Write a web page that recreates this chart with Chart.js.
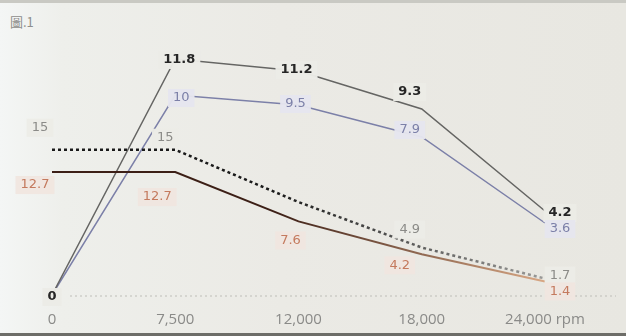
<!DOCTYPE html>
<html>
<head>
<meta charset="utf-8">
<script src="https://cdn.jsdelivr.net/npm/chart.js@4/dist/chart.umd.min.js"></script>
<style>
  html, body { margin: 0; padding: 0; }
  body {
    width: 626px; height: 336px; overflow: hidden; position: relative;
    background: linear-gradient(90deg, #f4f6f5 0%, #eeefeb 10%, #ebeae5 45%, #e8e7e1 100%);
  }
  #title { position: absolute; left: 10px; top: 12px; font: 13px "Noto Sans CJK TC"; color: #8e8e8c; }
  #topedge { position: absolute; left: 0; top: 0; width: 626px; height: 3px; background: #c9c9c3; }
  #botedge { position: absolute; left: 0; top: 333px; width: 626px; height: 3px; background: #6d6d68; }
  #wrap { position: absolute; left: 0; top: 0; width: 626px; height: 336px; }
</style>
</head>
<body>
<div id="topedge"></div>
<div id="botedge"></div>
<div id="title">圖.1</div>
<div id="wrap"><canvas id="canvas"></canvas></div>
<script>
// rpm steps along the bottom
var rpmLabels = ['0', '7,500', '12,000', '18,000', '24,000 rpm'];

// power curves (right scale)
var powerDark = [0, 11.8, 11.2, 9.3, 4.2];
var powerBlue = [0, 10, 9.5, 7.9, 3.6];

// torque curves (left scale)
var torqueDotted = [15, 15, 9.6, 4.9, 1.7];
var torqueRed = [12.7, 12.7, 7.6, 4.2, 1.4];

// gradient along x for the lines that fade to the right
function fade(chart, from, to) {
  var area = chart.chartArea;
  if (!area) return from;
  var g = chart.ctx.createLinearGradient(area.left, 0, area.right, 0);
  g.addColorStop(0, from);
  g.addColorStop(0.45, from);
  g.addColorStop(1, to);
  return g;
}

// dotted zero line across the page
var baseLine = {
  id: 'baseLine',
  beforeDatasetsDraw: function(chart) {
    var ctx = chart.ctx;
    var y = chart.scales.yT.getPixelForValue(0) + 1;
    ctx.save();
    ctx.strokeStyle = '#bdbdb7';
    ctx.lineWidth = 1.2;
    ctx.setLineDash([2, 3]);
    ctx.beginPath();
    ctx.moveTo(chart.chartArea.left + 18, y);
    ctx.lineTo(chart.width - 10, y);
    ctx.stroke();
    ctx.restore();
  }
};

// value labels drawn on boxes so the lines break around them
var valueLabels = {
  id: 'valueLabels',
  afterDatasetsDraw: function(chart) {
    var ctx = chart.ctx;
    chart.data.datasets.forEach(function(ds, i) {
      var meta = chart.getDatasetMeta(i);
      meta.data.forEach(function(pt, j) {
        var off = ds.labelPos[j];
        if (!off) return;
        var text = String(ds.data[j]);
        var x = pt.x + off[0];
        var y = pt.y + off[1];
        ctx.save();
        ctx.font = ds.labelFont;
        var w = ctx.measureText(text).width;
        ctx.fillStyle = ds.labelBox;
        ctx.fillRect(x - w / 2 - 5, y - 9, w + 10, 18);
        ctx.fillStyle = ds.labelColor;
        ctx.textAlign = 'center';
        ctx.textBaseline = 'middle';
        ctx.fillText(text, x, y);
        ctx.restore();
      });
    });
  }
};

var config = {
  type: 'line',
  data: {
    labels: rpmLabels,
    datasets: [
      {
        data: torqueDotted,
        yAxisID: 'yT',
        borderColor: function(c) { return fade(c.chart, '#1a1a1a', '#9a9a98'); },
        borderWidth: 2.5,
        borderDash: [3, 3],
        labelPos: [[-12, -22], [-10, -12], null, [-12, -18], [15, -3]],
        labelFont: '13px "DejaVu Sans"',
        labelColor: '#8b8b88',
        labelBox: 'rgba(236,236,231,0.95)'
      },
      {
        data: torqueRed,
        yAxisID: 'yT',
        borderColor: function(c) { return fade(c.chart, '#3c1f16', '#d8a784'); },
        borderWidth: 2,
        labelPos: [[-17, 13], [-18, 25], [-8, 19], [-22, 11], [15, 10]],
        labelFont: '13px "DejaVu Sans"',
        labelColor: '#c47a5e',
        labelBox: 'rgba(240,230,223,0.95)'
      },
      {
        data: powerDark,
        yAxisID: 'yP',
        borderColor: '#656563',
        borderWidth: 1.5,
        labelPos: [[0, 2], [4, 1], [-2, -1], [-12, -17], [15, 2]],
        labelFont: 'bold 13px "DejaVu Sans"',
        labelColor: '#262626',
        labelBox: 'rgba(235,235,230,0.97)'
      },
      {
        data: powerBlue,
        yAxisID: 'yP',
        borderColor: '#7c80a8',
        borderWidth: 1.5,
        labelPos: [null, [6, 3], [-3, -1], [-12, -7], [15, 6]],
        labelFont: '13px "DejaVu Sans"',
        labelColor: '#7c80a8',
        labelBox: 'rgba(229,229,238,0.97)'
      }
    ]
  },
  options: {
    responsive: true,
    maintainAspectRatio: false,
    animation: false,
    layout: { padding: { left: 52, right: 81, top: 20, bottom: 5 } },
    elements: {
      point: { radius: 0, hoverRadius: 0 },
      line: { tension: 0 }
    },
    plugins: {
      legend: { display: false },
      tooltip: { enabled: false }
    },
    scales: {
      x: {
        grid: { display: false, drawTicks: false },
        border: { display: false },
        afterFit: function(scale) { scale.height = 36; },
        ticks: {
          color: '#8a8a88',
          padding: 16,
          maxRotation: 0,
          autoSkip: false,
          font: { family: 'Open Sans', size: 15 }
        }
      },
      yT: { display: false, position: 'left', min: 0, max: 28.4 },
      yP: { display: false, position: 'right', min: 0, max: 13.75 }
    }
  },
  plugins: [baseLine, valueLabels]
};

var ctx = document.getElementById('canvas');
var chart = new Chart(ctx, config);
</script>
</body>
</html>
